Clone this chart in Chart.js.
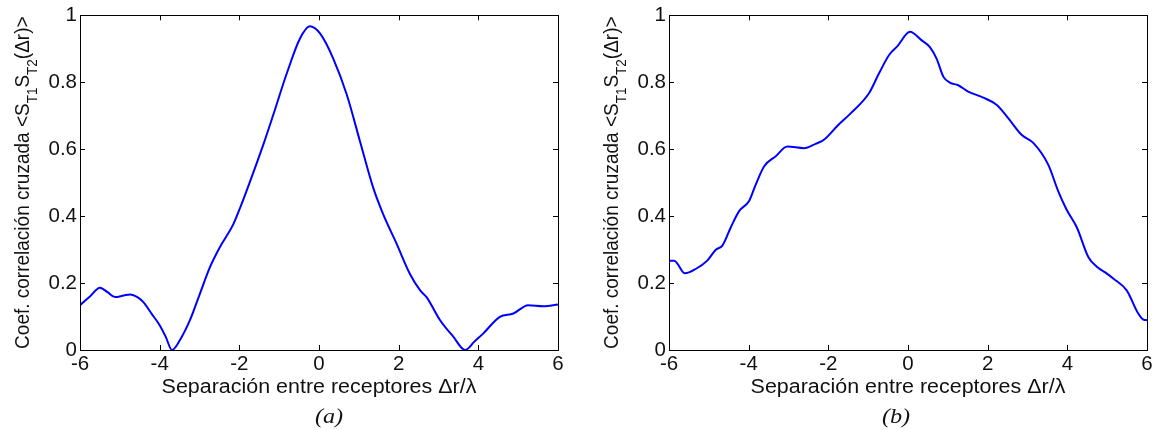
<!DOCTYPE html>
<html>
<head>
<meta charset="utf-8">
<script src="https://cdn.jsdelivr.net/npm/chart.js@4.4.1/dist/chart.umd.min.js"></script>
<style>
  html, body { margin: 0; padding: 0; background: #fff; }
  body { width: 1157px; height: 430px; position: relative; overflow: hidden; }
  .panel { position: absolute; top: 0; height: 430px; }
</style>
</head>
<body>
<div class="panel" style="left:0;width:580px"><canvas id="chartA" width="580" height="430"></canvas></div>
<div class="panel" style="left:580px;width:577px"><canvas id="chartB" width="577" height="430"></canvas></div>
<script>
// (a) separation / coefficient
const sepA = [-6.0, -5.75, -5.5, -5.3, -5.12, -4.9, -4.74, -4.55, -4.41, -4.2, -4.0, -3.85, -3.69,
    -3.49, -3.24, -3.0, -2.74, -2.49, -2.15, -1.98, -1.73, -1.4, -1.15, -0.81, -0.48, -0.23,
    0.03, 0.36, 0.7, 1.03, 1.36, 1.61, 1.95, 2.28, 2.54, 2.7, 3.04, 3.37, 3.67,
    3.9, 4.12, 4.54, 4.88, 5.25, 5.63, 6.0]
const coefA = [0.134, 0.160, 0.186, 0.172, 0.158, 0.163, 0.166, 0.157, 0.143, 0.108, 0.074, 0.040, 0.0,
    0.030, 0.089, 0.165, 0.247, 0.307, 0.376, 0.425, 0.504, 0.613, 0.702, 0.826, 0.930, 0.967,
    0.945, 0.870, 0.762, 0.623, 0.485, 0.406, 0.317, 0.228, 0.178, 0.158, 0.089, 0.040, 0.0,
    0.025, 0.049, 0.099, 0.109, 0.134, 0.131, 0.136]

// (b)
const sepB = [-6.0, -5.87, -5.6, -5.33, -5.04, -4.83, -4.66, -4.45, -4.24, -3.99, -3.82, -3.61,
    -3.32, -3.03, -2.61, -2.32, -2.11, -1.77, -1.44, -0.98, -0.73, -0.47, -0.27, 0.05,
    0.345, 0.55, 0.72, 0.89, 1.05, 1.26, 1.51, 1.89, 2.23, 2.52, 2.85, 3.15,
    3.52, 3.77, 3.98, 4.24, 4.53, 4.74, 4.95, 5.16, 5.49, 5.78, 5.91, 6.0]
const coefB = [0.267, 0.267, 0.229, 0.242, 0.267, 0.299, 0.312, 0.366, 0.415, 0.445, 0.495, 0.549,
    0.579, 0.608, 0.603, 0.616, 0.628, 0.670, 0.707, 0.767, 0.826, 0.882, 0.907, 0.951,
    0.925, 0.905, 0.870, 0.816, 0.799, 0.791, 0.772, 0.754, 0.732, 0.692, 0.643, 0.618,
    0.554, 0.475, 0.420, 0.366, 0.277, 0.249, 0.232, 0.213, 0.178, 0.109, 0.091, 0.089]

const xTicks = [-6, -4, -2, 0, 2, 4, 6]
const yTicks = [0, 0.2, 0.4, 0.6, 0.8, 1]

const xTitle = 'Separación entre receptores Δr/λ'
// [text, isSubscript]
const yTitleParts = [['Coef. correlación cruzada <S', false], ['T1', true], ['S', false], ['T2', true], ['(Δr)>', false]]

const SANS = '"Liberation Sans", Arial, Helvetica, sans-serif'
const SERIF = '"Liberation Serif", "Times New Roman", serif'
const STRETCH = 1.1   // the original figure is a bit wider than tall

// matlab style labels: 0, 0.2 ... 1
const fmt = v => String(Math.round(v * 10) / 10)

// box, inward ticks, titles and caption
const framePlugin = {
    id: 'frame',
    afterDraw(chart, args, opts) {
        const ctx = chart.ctx
        const {left, right, top, bottom} = chart.chartArea
        const xs = chart.scales.x, ys = chart.scales.y
        const tl = 5

        ctx.save()
        ctx.strokeStyle = '#000'
        ctx.lineWidth = 1
        ctx.strokeRect(Math.round(left) + 0.5, Math.round(top) + 0.5, Math.round(right - left), Math.round(bottom - top))

        ctx.beginPath()
        xTicks.forEach(v => {
            const px = Math.round(xs.getPixelForValue(v)) + 0.5
            ctx.moveTo(px, bottom); ctx.lineTo(px, bottom - tl)
            ctx.moveTo(px, top); ctx.lineTo(px, top + tl)
        })
        yTicks.forEach(v => {
            const py = Math.round(ys.getPixelForValue(v)) + 0.5
            ctx.moveTo(left, py); ctx.lineTo(left + tl, py)
            ctx.moveTo(right, py); ctx.lineTo(right - tl, py)
        })
        ctx.stroke()

        ctx.fillStyle = '#111'

        // x title
        ctx.save()
        ctx.font = '19.5px ' + SANS
        ctx.textAlign = 'center'
        ctx.textBaseline = 'alphabetic'
        ctx.translate((left + right) / 2, 393)
        ctx.scale(STRETCH, 1)
        ctx.fillText(xTitle, 0, 0)
        ctx.restore()

        // y title, rotated, with subscripts
        const mainFont = '19px ' + SANS
        const subFont = '13.5px ' + SANS
        let total = 0
        const widths = yTitleParts.map(([t, sub]) => {
            ctx.font = sub ? subFont : mainFont
            const w = ctx.measureText(t).width
            total += w
            return w
        })
        ctx.save()
        ctx.translate(left - 51, (top + bottom) / 2)
        ctx.scale(STRETCH, 1)
        ctx.rotate(-Math.PI / 2)
        ctx.textAlign = 'left'
        ctx.textBaseline = 'alphabetic'
        let pos = -total / 2
        yTitleParts.forEach(([t, sub], i) => {
            ctx.font = sub ? subFont : mainFont
            ctx.fillText(t, pos, sub ? 8 / STRETCH : 0)
            pos += widths[i]
        })
        ctx.restore()

        // caption
        ctx.save()
        ctx.font = 'italic 22px ' + SERIF
        ctx.textAlign = 'center'
        ctx.translate(opts.captionX, 423)
        ctx.scale(STRETCH, 1)
        ctx.fillText(opts.caption, 0, 0)
        ctx.restore()

        ctx.restore()
    }
}

function makeChart(id, xs, ys, axisWidth, padRight, caption, captionX) {
    return new Chart(document.getElementById(id), {
        type: 'line',
        data: {
            datasets: [{
                data: xs.map((x, i) => ({x: x, y: ys[i]})),
                borderColor: '#0000ff',
                borderWidth: 2,
                pointRadius: 0,
                fill: false,
                cubicInterpolationMode: 'monotone'
            }]
        },
        options: {
            responsive: false,
            animation: false,
            devicePixelRatio: 1,
            layout: { padding: { top: 13, right: padRight, bottom: 0, left: 0 } },
            plugins: {
                legend: { display: false },
                tooltip: { enabled: false },
                frame: { caption: caption, captionX: captionX }
            },
            scales: {
                x: {
                    type: 'linear',
                    min: -6,
                    max: 6,
                    grid: { display: false, drawTicks: false },
                    border: { display: false },
                    afterBuildTicks: s => { s.ticks = xTicks.map(v => ({value: v})) },
                    afterFit: s => { s.height = 80 },
                    ticks: {
                        autoSkip: false,
                        maxRotation: 0,
                        padding: 2,
                        color: '#111',
                        font: { family: SANS, size: 20.5 },
                        callback: fmt
                    }
                },
                y: {
                    min: 0,
                    max: 1,
                    grid: { display: false, drawTicks: false },
                    border: { display: false },
                    afterBuildTicks: s => { s.ticks = yTicks.map(v => ({value: v})) },
                    afterFit: s => { s.width = axisWidth },
                    ticks: {
                        autoSkip: false,
                        padding: 3,
                        color: '#111',
                        font: { family: SANS, size: 20.5 },
                        callback: fmt
                    }
                }
            }
        },
        plugins: [framePlugin]
    })
}

makeChart('chartA', sepA, coefA, 80, 22, '(a)', 329)
makeChart('chartB', sepB, coefB, 89, 10, '(b)', 316)
</script>
</body>
</html>
